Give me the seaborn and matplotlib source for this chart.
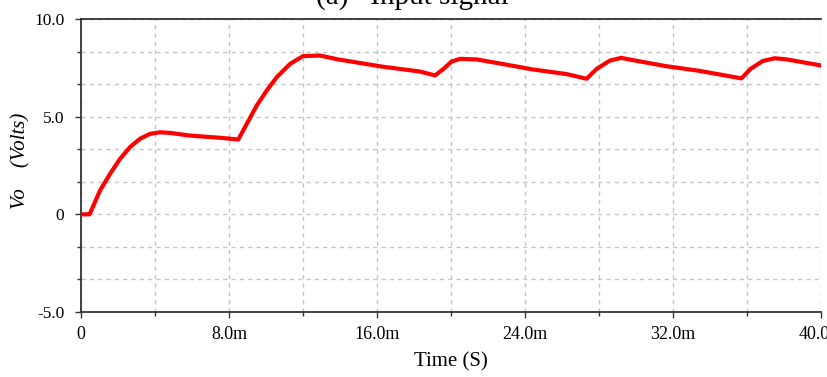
import matplotlib
matplotlib.use("Agg")
import matplotlib.pyplot as plt
import seaborn as sns
import pandas as pd
import numpy as np
from matplotlib.ticker import MultipleLocator, FixedLocator

# ---- data (time in ms, output voltage in V) ----
time_ms = [0.0, 0.45, 0.49, 1.03, 1.57, 2.11, 2.65, 3.19, 3.73, 4.27, 4.81,
           5.89, 7.51, 8.5,
           8.96, 9.5, 10.04, 10.58, 11.3, 12.0, 12.92, 13.9,
           16.3, 18.32, 19.14,
           19.6, 20.03, 20.49, 21.39, 22.6, 24.4, 26.25, 27.33,
           27.88, 28.59, 29.2, 29.8, 31.6, 33.4, 35.7,
           36.2, 36.85, 37.5, 38.1, 40.0]
v_out = [0.0, 0.0, 0.06, 1.22, 2.07, 2.84, 3.44, 3.87, 4.12, 4.2, 4.17,
         4.03, 3.92, 3.83,
         4.63, 5.57, 6.34, 7.02, 7.7, 8.1, 8.13, 7.93,
         7.56, 7.31, 7.11,
         7.45, 7.82, 7.96, 7.93, 7.73, 7.42, 7.18, 6.94,
         7.45, 7.87, 8.01, 7.9, 7.59, 7.35, 6.96,
         7.45, 7.85, 7.99, 7.94, 7.62]

x_ticks = [0, 8, 16, 24, 32, 40]
x_tick_labels = ["0", "8.0m", "16.0m", "24.0m", "32.0m", "40.0m"]
y_ticks = [-5, 0, 5, 10]
y_tick_labels = ["-5.0", "0", "5.0", "10.0"]

df = pd.DataFrame({"t": time_ms, "v": v_out})

sns.set_theme(style="white")
plt.rcParams["font.family"] = ["Liberation Serif", "DejaVu Serif"]

fig = plt.figure(figsize=(8.28, 3.77), dpi=100)
ax = fig.add_axes([81/828, 1-312/377, (821-81)/828, (312-19)/377])

sns.lineplot(data=df, x="t", y="v", ax=ax, color="#ff0000", linewidth=3.0,
             solid_capstyle="round", solid_joinstyle="round", zorder=3)

ax.set_xlim(0, 40)
ax.set_ylim(-5, 10)

ax.xaxis.set_major_locator(FixedLocator(x_ticks))
ax.set_xticklabels(x_tick_labels)
ax.xaxis.set_minor_locator(MultipleLocator(4))
ax.yaxis.set_major_locator(FixedLocator(y_ticks))
ax.set_yticklabels(y_tick_labels)
ax.yaxis.set_minor_locator(MultipleLocator(5/3))

ax.grid(True, which="both", color="#c4c4c4", linestyle=(0, (3, 3)), linewidth=1.0)
ax.set_axisbelow(True)

for side in ["left", "bottom", "top"]:
    ax.spines[side].set_visible(True)
    ax.spines[side].set_color("#333333")
    ax.spines[side].set_linewidth(1.3)
ax.spines["right"].set_visible(False)

ax.tick_params(axis="both", which="major", direction="out", length=4, width=1,
               color="#333333", labelsize=12.5, labelcolor="black")
ax.tick_params(axis="x", which="major", pad=6, labelsize=13)
ax.tick_params(axis="y", which="major", pad=8)
ax.tick_params(axis="both", which="minor", direction="out", length=3, width=1,
               color="#333333")
ax.tick_params(bottom=True, left=True, which="both")

ax.set_xlabel("Time (S)", fontsize=15, color="black", labelpad=7)
ax.set_ylabel("")
fig.text(21/828, 1-161/377, "Vo    (Volts)", rotation=90, ha="center", va="center",
         fontsize=15, style="italic", color="black")

fig.text(412/828, 1-3.5/377, "(a)   Input signal", ha="center", va="baseline",
         fontsize=21, color="black")

fig.savefig("out.png", dpi=100, facecolor="white")
